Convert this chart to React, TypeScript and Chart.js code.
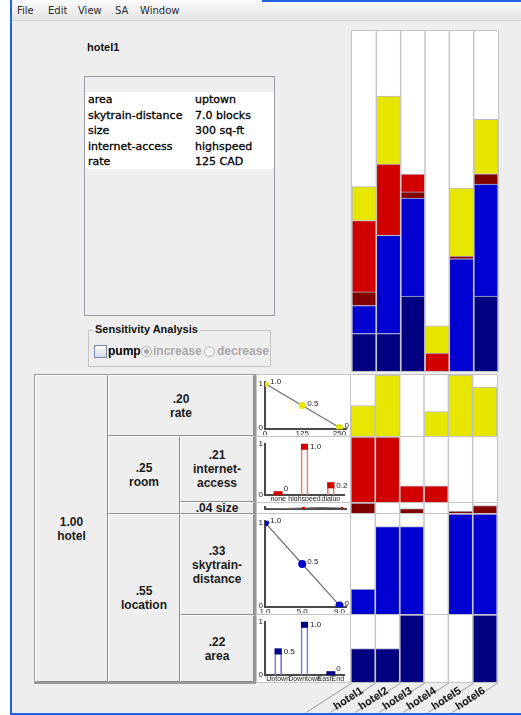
import React, { useEffect, useRef } from 'react';
import { Chart, registerables } from 'chart.js';

Chart.register(...registerables);

const SANS = '"Liberation Sans", Arial, sans-serif';
const DEJAVU = '"DejaVu Sans", sans-serif';
Chart.defaults.font.family = SANS;

// ---------- data ----------
const hotels = ['hotel1', 'hotel2', 'hotel3', 'hotel4', 'hotel5', 'hotel6'];
const attrWeights = [0.2, 0.21, 0.04, 0.33, 0.22]; // rate, internet-access, size, skytrain-distance, area
const attrColors = ['#e6e600', '#d00000', '#800000', '#0000d0', '#000080'];

const rateUtil = [0.5, 1.0, 0, 0.4, 1.0, 0.8];
const internetUtil = [1.0, 1.0, 0.25, 0.25, 0, 0];
const sizeUtil = [1.0, 0, 0.45, 0, 0.2, 0.75];
const skytrainUtil = [0.25, 0.875, 0.875, 0, 1.0, 1.0];
const areaUtil = [0.5, 0.5, 1.0, 0, 0, 1.0];

const rateDomain = [0, 125, 250];
const rateFnUtil = [1.0, 0.5, 0];
const rateFnLabels = ['1.0', '0.5', '0'];
const rateTickLabels = ['0', '125', '250'];

const internetDomain = ['none', 'highspeed', 'dialup'];
const internetFnUtil = [0, 1.0, 0.25];
const internetFnLabels = ['0', '1.0', '0.2'];

const sizeDomain = [200, 250, 300];
const sizeFnUtil = [0, 0.5, 1.0];

const skytrainDomain = [1, 5, 9];
const skytrainFnUtil = [1.0, 0.5, 0];
const skytrainFnLabels = ['1.0', '0.5', '0'];
const skytrainTickLabels = ['1.0', '5.0', '9.0'];

const areaDomain = ['Uptown', 'Downtown', 'EastEnd'];
const areaFnUtil = [0.5, 1.0, 0];
const areaFnLabels = ['0.5', '1.0', '0'];

const infoLabels = ['area', 'skytrain-distance', 'size', 'internet-access', 'rate'];
const infoValues = ['uptown', '7.0 blocks', '300 sq-ft', 'highspeed', '125 CAD'];

// ---------- plugins ----------
const separatorPlugin = {
  id: 'separators',
  afterDatasetsDraw(chart: any) {
    const x = chart.scales.x;
    const n = chart.data.labels.length;
    const ctx = chart.ctx;
    const { top, bottom } = chart.chartArea;
    ctx.save();
    ctx.strokeStyle = '#c4c4c4';
    ctx.lineWidth = 1.5;
    for (let i = 1; i < n; i++) {
      const px = (x.getPixelForValue(i - 1) + x.getPixelForValue(i)) / 2;
      ctx.beginPath();
      ctx.moveTo(px, top);
      ctx.lineTo(px, bottom);
      ctx.stroke();
    }
    ctx.restore();
  },
};

const pointLabelPlugin = {
  id: 'pointLabels',
  afterDatasetsDraw(chart: any, _args: any, opts: any) {
    if (!opts || !opts.labels) return;
    const ctx = chart.ctx;
    const meta = chart.getDatasetMeta(0);
    ctx.save();
    ctx.font = '8px ' + SANS;
    ctx.textBaseline = 'middle';
    ctx.textAlign = 'left';
    meta.data.forEach((el: any, i: number) => {
      const p = el.getProps(['x', 'y', 'width', 'base'], true);
      if (opts.cap) {
        const w = p.width || 7;
        const val = chart.data.datasets[0].data[i];
        ctx.fillStyle = opts.cap;
        let top;
        if (val > 0) {
          top = p.y;
          ctx.fillRect(p.x - w / 2, top, w, 6);
        } else {
          top = p.base - 4;
          ctx.fillRect(p.x - w / 2 - 1, top, w + 2, 4);
        }
        ctx.fillStyle = '#222';
        ctx.fillText(opts.labels[i], p.x + w / 2 + 2, top + (val > 0 ? 3 : -2));
      } else {
        ctx.fillStyle = '#222';
        ctx.fillText(opts.labels[i], p.x + 5, p.y - 2);
      }
    });
    ctx.restore();
  },
};

const baseOpts = {
  animation: false,
  responsive: false,
  maintainAspectRatio: false,
  events: [],
};

// ---------- configs ----------
function stackedConfig() {
  const order = [4, 3, 2, 1, 0];
  const utils = [rateUtil, internetUtil, sizeUtil, skytrainUtil, areaUtil];
  return {
    type: 'bar',
    data: {
      labels: hotels,
      datasets: order.map((k) => ({
        data: utils[k].map((u) => u * attrWeights[k]),
        backgroundColor: attrColors[k],
        borderColor: '#b8b8cc',
        borderWidth: 1,
        barPercentage: 1,
        categoryPercentage: 1,
      })),
    },
    options: {
      ...baseOpts,
      layout: { padding: 0 },
      plugins: { legend: { display: false }, tooltip: { enabled: false } },
      scales: {
        x: { display: false, stacked: true },
        y: { display: false, stacked: true, min: 0, max: 1 },
      },
    },
    plugins: [separatorPlugin],
  };
}

function rowConfig(util: number[], color: string) {
  return {
    type: 'bar',
    data: {
      labels: hotels,
      datasets: [
        {
          data: util,
          backgroundColor: color,
          borderColor: '#b8b8cc',
          borderWidth: 1,
          barPercentage: 1,
          categoryPercentage: 1,
        },
      ],
    },
    options: {
      ...baseOpts,
      layout: { padding: 0 },
      plugins: { legend: { display: false }, tooltip: { enabled: false } },
      scales: {
        x: { display: false },
        y: { display: false, min: 0, max: 1 },
      },
    },
    plugins: [separatorPlugin],
  };
}

function axisY(min: number, max: number, showTicks = true) {
  return {
    min,
    max,
    grid: { display: false, drawTicks: false },
    border: { display: true, color: '#4a4a4a', width: 2 },
    ticks: { display: showTicks, font: { size: 8 }, color: '#222', padding: 2 },
    afterBuildTicks: (s: any) => {
      s.ticks = [{ value: 0 }, { value: 1 }];
    },
    afterFit: (s: any) => {
      s.width = 8;
    },
  };
}

function lineUtilConfig(
  xs: number[],
  ys: number[],
  labels: string[] | null,
  tickLabels: string[] | null,
  color: string,
  xMin: number,
  xMax: number,
  yMin: number,
  yMax: number,
  radius: number,
  xHeight: number
) {
  return {
    type: 'line',
    data: {
      datasets: [
        {
          data: xs.map((x, i) => ({ x, y: ys[i] })),
          borderColor: '#707070',
          borderWidth: 1.2,
          pointRadius: radius,
          pointBackgroundColor: color,
          pointBorderColor: color,
          pointBorderWidth: 0,
        },
      ],
    },
    options: {
      ...baseOpts,
      layout: { padding: { top: 1, right: 2, left: 0, bottom: 0 } },
      plugins: {
        legend: { display: false },
        tooltip: { enabled: false },
        pointLabels: labels ? { labels } : {},
      },
      scales: {
        x: {
          type: 'linear',
          min: xMin,
          max: xMax,
          grid: { display: false, drawTicks: false },
          border: { display: true, color: '#4a4a4a', width: 2 },
          ticks: {
            display: !!tickLabels,
            font: { size: 8 },
            color: '#222',
            padding: 0,
            maxRotation: 0,
            autoSkip: false,
            callback: (_v: any, i: number) => (tickLabels ? tickLabels[i] : ''),
          },
          afterBuildTicks: (s: any) => {
            s.ticks = xs.map((v) => ({ value: v }));
          },
          afterFit: (s: any) => {
            s.height = xHeight;
          },
        },
        y: axisY(yMin, yMax, !!tickLabels),
      },
    },
    plugins: [pointLabelPlugin],
  };
}

function barUtilConfig(cats: string[], ys: number[], labels: string[], outline: string, cap: string) {
  return {
    type: 'bar',
    data: {
      labels: cats,
      datasets: [
        {
          data: ys,
          backgroundColor: 'rgba(255,255,255,0)',
          borderColor: outline,
          borderWidth: 1,
          borderSkipped: 'bottom',
          barThickness: 7,
        },
      ],
    },
    options: {
      ...baseOpts,
      layout: { padding: { top: 1, right: 6, left: 0, bottom: 0 } },
      plugins: {
        legend: { display: false },
        tooltip: { enabled: false },
        pointLabels: { labels, cap },
      },
      scales: {
        x: {
          grid: { display: false, drawTicks: false },
          border: { display: true, color: '#4a4a4a', width: 2 },
          ticks: { font: { size: 7 }, color: '#222', padding: 0, maxRotation: 0, autoSkip: false },
          afterFit: (s: any) => {
            s.height = 6;
          },
        },
        y: axisY(0, 1),
      },
    },
    plugins: [pointLabelPlugin],
  };
}

// ---------- components ----------
function ChartCanvas({ left, top, width, height, config }: any) {
  const ref = useRef<HTMLCanvasElement>(null);
  useEffect(() => {
    const chart = new Chart(ref.current as HTMLCanvasElement, config as any);
    return () => chart.destroy();
  }, []);
  return (
    <canvas
      ref={ref}
      width={width}
      height={height}
      style={{ position: 'absolute', left, top, width, height, background: '#fff', display: 'block' }}
    />
  );
}

function Cell({ left, top, width, height, lines }: any) {
  return (
    <div
      style={{
        position: 'absolute',
        left,
        top,
        width,
        height,
        boxSizing: 'border-box',
        borderTop: '1px solid #ffffff',
        borderLeft: '1px solid #ffffff',
        borderRight: '1px solid #8c8c8c',
        borderBottom: '1px solid #8c8c8c',
        background: '#eeeeee',
        display: 'flex',
        flexDirection: 'column',
        alignItems: 'center',
        justifyContent: 'center',
        font: `bold 12px ${SANS}`,
        lineHeight: '14px',
        color: '#1a1a1a',
        textAlign: 'center',
        whiteSpace: 'nowrap',
      }}
    >
      {lines.map((l: string, i: number) => (
        <div key={i}>{l}</div>
      ))}
    </div>
  );
}

export default function App() {
  const rows = [
    { top: 375, h: 61 },
    { top: 437, h: 65 },
    { top: 503, h: 10 },
    { top: 514, h: 100 },
    { top: 615, h: 67 },
  ];
  const rowUtils = [rateUtil, internetUtil, sizeUtil, skytrainUtil, areaUtil];
  const colW = 146 / 6;
  const menu = ['File', 'Edit', 'View', 'SA', 'Window'];
  const menuX = [17, 48, 78, 115, 140];
  const infoFont = {
    font: `11px ${DEJAVU}`,
    lineHeight: '15px',
    color: '#000',
    WebkitTextStroke: '0.3px #000',
  } as any;

  return (
    <div
      style={{
        position: 'absolute',
        left: 0,
        top: 0,
        width: 521,
        height: 715,
        background: '#ffffff',
        overflow: 'hidden',
        fontFamily: SANS,
      }}
    >
      {/* window */}
      <div style={{ position: 'absolute', left: 10, top: 0, width: 511, height: 715, background: '#eeeeee' }} />
      <div style={{ position: 'absolute', left: 10, top: 0, width: 2, height: 715, background: '#1f63e8' }} />
      <div style={{ position: 'absolute', left: 10, top: 713, width: 511, height: 2, background: '#1f63e8' }} />
      <div
        style={{
          position: 'absolute',
          left: 12,
          top: 0,
          width: 509,
          height: 20,
          background: 'linear-gradient(#fbfbfb, #e4e4e4)',
          borderBottom: '1px solid #d4d4d4',
        }}
      />
      <div style={{ position: 'absolute', left: 262, top: 0, width: 259, height: 2, background: '#1f63e8' }} />
      {menu.map((m, i) => (
        <div
          key={m}
          style={{ position: 'absolute', left: menuX[i], top: 4, font: `10px ${DEJAVU}`, color: '#2a2a2a', lineHeight: '13px' }}
        >
          {m}
        </div>
      ))}

      {/* hotel header */}
      <div style={{ position: 'absolute', left: 87, top: 40, font: `bold 11px ${SANS}`, color: '#111', lineHeight: '14px' }}>
        hotel1
      </div>

      {/* info panel */}
      <div
        style={{
          position: 'absolute',
          left: 84,
          top: 76,
          width: 191,
          height: 240,
          boxSizing: 'border-box',
          border: '1px solid #9a9aa6',
          background: '#eeeeee',
        }}
      />
      <div style={{ position: 'absolute', left: 85, top: 92, width: 189, height: 77, background: '#ffffff' }} />
      {infoLabels.map((l, i) => (
        <React.Fragment key={l}>
          <div style={{ position: 'absolute', left: 88, top: 92 + i * 15.5, ...infoFont }}>{l}</div>
          <div style={{ position: 'absolute', left: 195, top: 92 + i * 15.5, ...infoFont }}>{infoValues[i]}</div>
        </React.Fragment>
      ))}

      {/* sensitivity analysis */}
      <div
        style={{
          position: 'absolute',
          left: 88,
          top: 330,
          width: 183,
          height: 37,
          boxSizing: 'border-box',
          border: '1px solid #c4c4c4',
        }}
      />
      <div
        style={{
          position: 'absolute',
          left: 93,
          top: 322,
          padding: '0 2px',
          background: '#eeeeee',
          font: `bold 11px ${SANS}`,
          lineHeight: '14px',
          color: '#111',
        }}
      >
        Sensitivity Analysis
      </div>
      <div
        style={{
          position: 'absolute',
          left: 94,
          top: 345,
          width: 13,
          height: 13,
          boxSizing: 'border-box',
          border: '1px solid #6f83a8',
          background: 'linear-gradient(#ffffff, #d6dcea)',
        }}
      />
      <div style={{ position: 'absolute', left: 108, top: 344, font: `bold 12px ${SANS}`, lineHeight: '15px', color: '#000' }}>
        pump
      </div>
      <div
        style={{
          position: 'absolute',
          left: 141,
          top: 346,
          width: 11,
          height: 11,
          boxSizing: 'border-box',
          borderRadius: '50%',
          border: '1px solid #b0b0b0',
          background: '#f4f4f4',
        }}
      >
        <div
          style={{ position: 'absolute', left: 2, top: 2, width: 5, height: 5, borderRadius: '50%', background: '#a8a8a8' }}
        />
      </div>
      <div style={{ position: 'absolute', left: 153, top: 344, font: `bold 12px ${SANS}`, lineHeight: '15px', color: '#a9a9a9' }}>
        increase
      </div>
      <div
        style={{
          position: 'absolute',
          left: 204,
          top: 346,
          width: 11,
          height: 11,
          boxSizing: 'border-box',
          borderRadius: '50%',
          border: '1px solid #b0b0b0',
          background: '#f4f4f4',
        }}
      />
      <div style={{ position: 'absolute', left: 217, top: 344, font: `bold 12px ${SANS}`, lineHeight: '15px', color: '#a9a9a9' }}>
        decrease
      </div>

      {/* stacked total chart */}
      <div style={{ position: 'absolute', left: 351, top: 30, width: 148, height: 342, background: '#c4c4c4' }} />
      <ChartCanvas left={352} top={31} width={146} height={340} config={stackedConfig()} />

      {/* tree */}
      <div style={{ position: 'absolute', left: 34, top: 374, width: 222, height: 310, background: '#9a9a9a' }} />
      <Cell left={35} top={375} width={73} height={307} lines={['1.00', 'hotel']} />
      <Cell left={108} top={375} width={146} height={61} lines={['.20', 'rate']} />
      <Cell left={108} top={436} width={72} height={78} lines={['.25', 'room']} />
      <Cell left={180} top={436} width={74} height={66} lines={['.21', 'internet-', 'access']} />
      <Cell left={180} top={502} width={74} height={12} lines={['.04 size']} />
      <Cell left={108} top={514} width={72} height={168} lines={['.55', 'location']} />
      <Cell left={180} top={514} width={74} height={101} lines={['.33', 'skytrain-', 'distance']} />
      <Cell left={180} top={615} width={74} height={67} lines={['.22', 'area']} />

      {/* utility functions column */}
      <div style={{ position: 'absolute', left: 256, top: 374, width: 95, height: 309, background: '#c4c4c4' }} />
      <ChartCanvas
        left={257}
        top={375}
        width={93}
        height={61}
        config={lineUtilConfig(rateDomain, rateFnUtil, rateFnLabels, rateTickLabels, '#e6e600', 0, 272, -0.04, 1.04, 3.5, 6)}
      />
      <ChartCanvas
        left={257}
        top={437}
        width={93}
        height={65}
        config={barUtilConfig(internetDomain, internetFnUtil, internetFnLabels, '#ee7a7a', '#d00000')}
      />
      <ChartCanvas
        left={257}
        top={503}
        width={93}
        height={10}
        config={lineUtilConfig(sizeDomain, sizeFnUtil, null, null, '#d00000', 200, 305, 0, 1, 1.5, 1)}
      />
      <ChartCanvas
        left={257}
        top={514}
        width={93}
        height={100}
        config={lineUtilConfig(skytrainDomain, skytrainFnUtil, skytrainFnLabels, skytrainTickLabels, '#0000d0', 1, 9.7, -0.022, 1.022, 4, 6)}
      />
      <ChartCanvas
        left={257}
        top={615}
        width={93}
        height={67}
        config={barUtilConfig(areaDomain, areaFnUtil, areaFnLabels, '#7a7ae0', '#000080')}
      />

      {/* per-attribute rows */}
      <div style={{ position: 'absolute', left: 350, top: 374, width: 148, height: 309, background: '#c4c4c4' }} />
      {rows.map((r, k) => (
        <ChartCanvas
          key={k}
          left={351}
          top={r.top}
          width={146}
          height={r.h}
          config={rowConfig(rowUtils[k], attrColors[k])}
        />
      ))}

      {/* slanted hotel labels */}
      {Array.from({ length: 7 }).map((_, i) => {
        const xb = 351 + colW * i;
        return (
          <div
            key={'l' + i}
            style={{
              position: 'absolute',
              left: xb - 45,
              top: 712,
              width: 54,
              height: 1,
              background: '#a0a0a0',
              transformOrigin: '0 0',
              transform: 'rotate(-32.8deg)',
            }}
          />
        );
      })}
      {hotels.map((h, i) => {
        const cx = 351 + colW * (i + 0.5) - 15;
        return (
          <div
            key={h}
            style={{
              position: 'absolute',
              left: cx - 25,
              top: 691,
              width: 50,
              height: 14,
              textAlign: 'center',
              font: `bold 11px ${SANS}`,
              lineHeight: '14px',
              color: '#111',
              transform: 'rotate(-33deg)',
            }}
          >
            {h}
          </div>
        );
      })}
    </div>
  );
}
